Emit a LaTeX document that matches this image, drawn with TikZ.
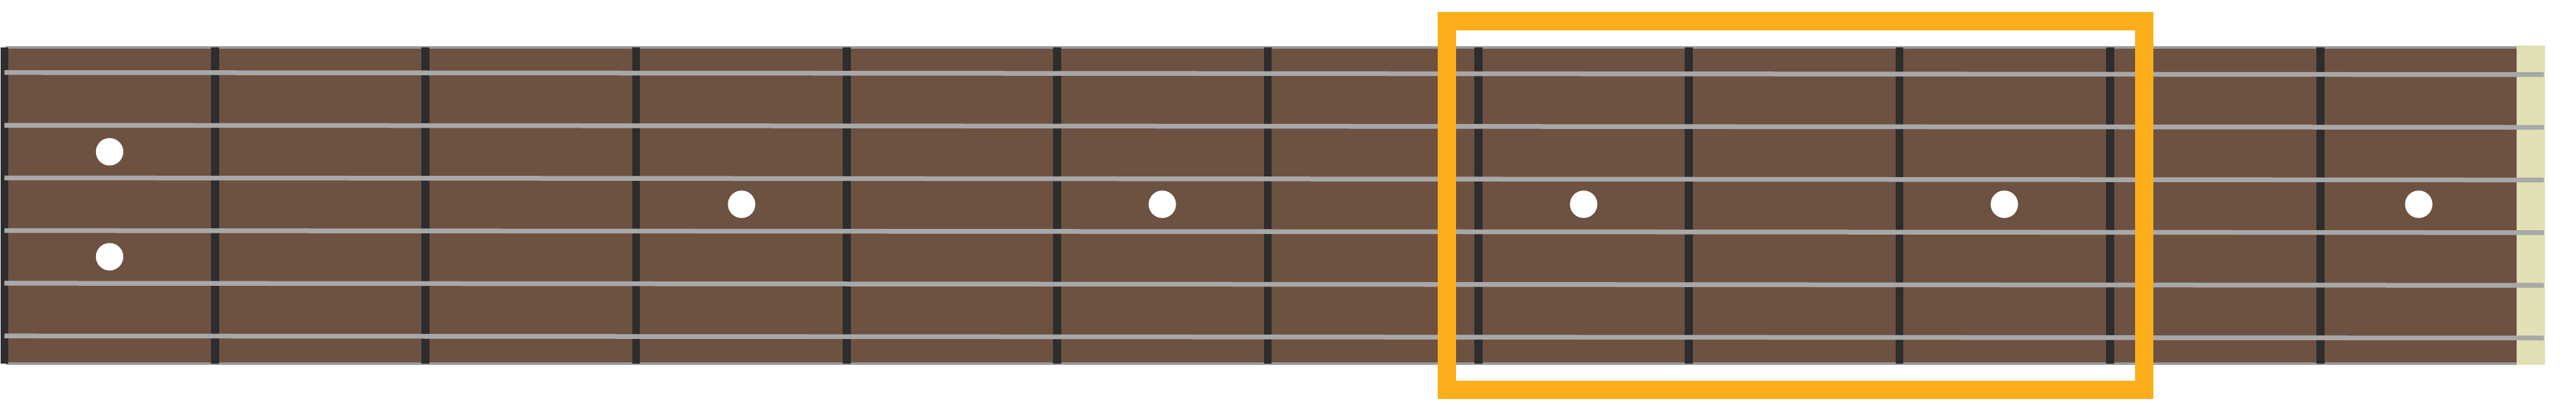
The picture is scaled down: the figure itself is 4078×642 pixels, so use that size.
\documentclass[tikz,border=0pt]{standalone}
\definecolor{wood}{HTML}{6D5141}
\definecolor{edgegray}{HTML}{9A9A9A}
\definecolor{stringgray}{HTML}{A8A8A8}
\definecolor{fretdark}{HTML}{2D2D2D}
\definecolor{bonecream}{HTML}{E1E0B4}
\definecolor{markorange}{HTML}{FBAE19}
\tikzset{
  fretbar/.style={fill=fretdark},
  stringline/.style={draw=stringgray, line width=7.5pt, line cap=butt},
  inlay/.style={fill=white},
  markbox/.style={draw=markorange, line width=29.5pt}
}
\begin{document}
\begin{tikzpicture}[x=1pt,y=-1pt]
\useasboundingbox (0,0) rectangle (4078,642);
% fretboard
\fill[wood] (10,75) rectangle (3984,575);
\fill[edgegray] (9.3,72.7) rectangle (3984,76.7);
\fill[edgegray] (9.3,572.7) rectangle (3984,576.7);
% bone nut at right
\fill[bonecream] (3984,72.3) rectangle (4029,577);
% left nut
\fill[fretbar] (1,75) rectangle (12.7,575);
% frets
\foreach \k in {1,...,11}{
  \fill[fretbar] ({7+333.33*\k-6.3},75) rectangle ({7+333.33*\k+6.3},575);
}
% inlays
\foreach \px/\py in {173.5/240, 173.5/406, 1174/323, 1840/323, 2507/323, 3173/323, 3829/323}{
  \fill[inlay] (\px,\py) circle[radius=21.7];
}
% strings
\foreach \i in {0,...,5}{
  \draw[stringline] (7,{114.7+83.3*\i}) -- (4027,{118+83.3*\i});
}
% highlight box
\draw[markbox] (2290.7,33.5) rectangle (3394.5,616.3);
\end{tikzpicture}
\end{document}
